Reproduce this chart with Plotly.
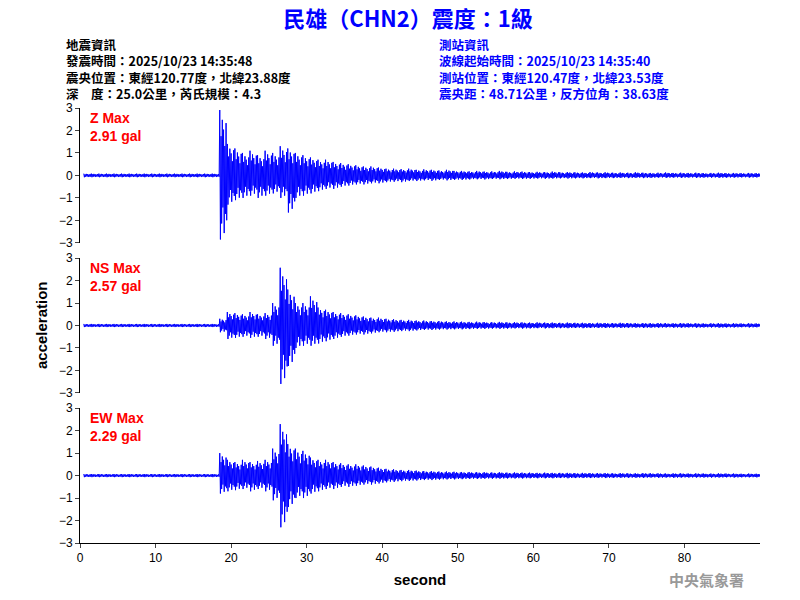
import plotly.graph_objects as go
from plotly.subplots import make_subplots

# per-second envelope (max / min) of each trace, t = 0..89 s
z_up = [0.08]*18 + [2.91, 1.4, 1.2, 1.0, 1.1, 0.9, 1.1, 1.0, 1.3, 1.2, 1.0, 0.9, 0.8, 0.7, 0.7, 0.6, 0.55, 0.5,
        0.45, 0.4, 0.4, 0.35, 0.3, 0.3, 0.28, 0.3, 0.25, 0.27, 0.25, 0.22, 0.25, 0.2,
        0.2, 0.18, 0.2, 0.17, 0.18, 0.2, 0.16, 0.18, 0.17, 0.15, 0.16, 0.15, 0.17, 0.14, 0.15, 0.14, 0.13, 0.15, 0.13, 0.14,
        0.12, 0.13, 0.12, 0.14, 0.12, 0.11, 0.12, 0.13, 0.11, 0.12, 0.11, 0.12, 0.1, 0.11, 0.12, 0.1, 0.11, 0.1, 0.11, 0.1]
z_dn = [-0.08]*18 + [-2.85, -1.3, -1.1, -1.0, -0.9, -1.0, -0.9, -0.8, -1.0, -1.65, -1.0, -0.9, -0.8, -0.7, -0.6, -0.6, -0.5, -0.45,
        -0.4, -0.4, -0.35, -0.35, -0.3, -0.28, -0.3, -0.25, -0.25, -0.22, -0.24, -0.2, -0.22, -0.2,
        -0.2, -0.18, -0.17, -0.18, -0.16, -0.17, -0.16, -0.15, -0.16, -0.15, -0.14, -0.15, -0.14, -0.13, -0.14, -0.13, -0.13, -0.12, -0.13, -0.12,
        -0.12, -0.11, -0.12, -0.11, -0.12, -0.11, -0.1, -0.11, -0.1, -0.11, -0.1, -0.11, -0.1, -0.1, -0.11, -0.1, -0.1, -0.09, -0.1, -0.09]
ns_up = [0.07]*18 + [0.3, 0.6, 0.55, 0.5, 0.6, 0.5, 0.55, 1.0, 2.57, 1.6, 1.0, 1.0, 1.3, 0.8, 0.7, 0.6, 0.55, 0.5,
         0.45, 0.4, 0.35, 0.35, 0.3, 0.28, 0.25, 0.25, 0.22, 0.22, 0.2, 0.2, 0.18, 0.18,
         0.17, 0.16, 0.17, 0.15, 0.15, 0.16, 0.14, 0.15, 0.14, 0.13, 0.14, 0.13, 0.13, 0.12, 0.13, 0.12, 0.12, 0.11, 0.12, 0.11,
         0.11, 0.12, 0.11, 0.1, 0.11, 0.1, 0.11, 0.1, 0.1, 0.11, 0.1, 0.1, 0.09, 0.1, 0.1, 0.09, 0.1, 0.09, 0.1, 0.09]
ns_dn = [-0.07]*18 + [-0.3, -0.6, -0.55, -0.5, -0.55, -0.5, -0.6, -0.9, -2.6, -1.8, -1.0, -0.9, -0.9, -0.8, -0.7, -0.6, -0.5, -0.45,
         -0.4, -0.4, -0.35, -0.3, -0.3, -0.28, -0.25, -0.25, -0.22, -0.2, -0.2, -0.18, -0.18, -0.17,
         -0.17, -0.16, -0.15, -0.15, -0.14, -0.15, -0.14, -0.13, -0.14, -0.13, -0.12, -0.13, -0.12, -0.12, -0.12, -0.11, -0.12, -0.11, -0.11, -0.11,
         -0.1, -0.11, -0.1, -0.1, -0.11, -0.1, -0.1, -0.09, -0.1, -0.1, -0.09, -0.1, -0.09, -0.09, -0.1, -0.09, -0.09, -0.08, -0.09, -0.08]
ew_up = [0.07]*18 + [1.0, 0.7, 0.6, 0.7, 0.6, 0.65, 0.7, 1.2, 2.29, 1.4, 1.2, 1.1, 0.8, 0.7, 0.7, 0.6, 0.55, 0.5,
         0.5, 0.45, 0.4, 0.35, 0.3, 0.28, 0.25, 0.25, 0.22, 0.2, 0.2, 0.18, 0.18, 0.17,
         0.16, 0.16, 0.15, 0.15, 0.14, 0.15, 0.13, 0.14, 0.13, 0.13, 0.12, 0.13, 0.12, 0.12, 0.12, 0.11, 0.12, 0.11, 0.11, 0.11,
         0.1, 0.11, 0.1, 0.1, 0.11, 0.1, 0.1, 0.09, 0.1, 0.1, 0.09, 0.1, 0.09, 0.09, 0.1, 0.09, 0.09, 0.08, 0.09, 0.08]
ew_dn = [-0.07]*18 + [-0.8, -0.7, -0.65, -0.6, -0.7, -0.6, -0.7, -1.1, -2.3, -1.4, -1.0, -1.0, -0.8, -0.7, -0.6, -0.6, -0.5, -0.5,
         -0.45, -0.4, -0.4, -0.35, -0.3, -0.28, -0.25, -0.24, -0.22, -0.2, -0.2, -0.18, -0.17, -0.17,
         -0.16, -0.15, -0.15, -0.14, -0.14, -0.14, -0.13, -0.13, -0.13, -0.12, -0.12, -0.12, -0.12, -0.11, -0.12, -0.11, -0.11, -0.11, -0.1, -0.11,
         -0.1, -0.1, -0.1, -0.1, -0.1, -0.09, -0.1, -0.09, -0.1, -0.09, -0.09, -0.09, -0.09, -0.09, -0.09, -0.08, -0.09, -0.08, -0.08, -0.08]

names = ["Z Max", "NS Max", "EW Max"]
peaks = ["2.91 gal", "2.57 gal", "2.29 gal"]
series = [(z_up, z_dn), (ns_up, ns_dn), (ew_up, ew_dn)]
# relative swing of the sub-second wiggles inside each one-second envelope
wiggle = [1.0, -1.0, 0.6, -0.75, 0.85, -0.5, 0.7, -0.9, 0.45, -0.6, 0.8, -0.7]

fig = make_subplots(rows=3, cols=1, shared_xaxes=True)
domains = [[0.69, 1.0], [0.345, 0.655], [0.0, 0.31]]
for i, (up, dn) in enumerate(series):
    xs, ys = [], []
    for t in range(len(up)):
        for k, w in enumerate(wiggle):
            xs.append(t + 0.5 + k / len(wiggle))
            ys.append(up[t] * w if w > 0 else dn[t] * -w)
    fig.add_trace(go.Scatter(x=xs, y=ys, mode="lines", line=dict(color="#0000ff", width=1)), row=i + 1, col=1)
    fig.update_yaxes(domain=domains[i], range=[-3, 3], tickvals=[-3, -2, -1, 0, 1, 2, 3], row=i + 1, col=1)
    ref = "y domain" if i == 0 else f"y{i+1} domain"
    fig.add_annotation(xref="x domain", yref=ref, x=0.012, y=1.0, text="<b>" + names[i] + "<br>" + peaks[i] + "</b>",
                       showarrow=False, xanchor="left", yanchor="top", align="left",
                       font=dict(color="#ff0000", size=14, family="Liberation Sans"))

fig.update_yaxes(showline=True, linecolor="black", ticks="outside", ticklen=4, showgrid=False, automargin=False,
                 zeroline=False, tickfont=dict(size=12, color="black", family="Liberation Sans"))
fig.update_xaxes(range=[0, 90], showgrid=False, zeroline=False, showline=False, showticklabels=False, automargin=False)
fig.update_xaxes(showline=True, linecolor="black", ticks="outside", ticklen=4, showticklabels=True,
                 tickvals=[0, 10, 20, 30, 40, 50, 60, 70, 80],
                 tickfont=dict(size=12, color="black", family="Liberation Sans"),
                 title=dict(text="<b>second</b>", font=dict(size=15, color="black", family="Liberation Sans"), standoff=10),
                 row=3, col=1)

cjk = "Noto Sans CJK TC"
left = "地震資訊<br>發震時間：2025/10/23 14:35:48<br>震央位置：東經120.77度，北緯23.88度<br>深　度：25.0公里，芮氏規模：4.3"
right = "測站資訊<br>波線起始時間：2025/10/23 14:35:40<br>測站位置：東經120.47度，北緯23.53度<br>震央距：48.71公里，反方位角：38.63度"
fig.add_annotation(xref="paper", yref="paper", x=-0.024, y=1.172, text="<b>" + left + "</b>", showarrow=False,
                   xanchor="left", yanchor="top", align="left", font=dict(size=12.5, color="black", family=cjk))
fig.add_annotation(xref="paper", yref="paper", x=0.525, y=1.172, text="<b>" + right + "</b>", showarrow=False,
                   xanchor="left", yanchor="top", align="left", font=dict(size=12.5, color="#0000ff", family=cjk))
fig.add_annotation(xref="paper", yref="paper", x=-0.072, y=0.5, text="<b>acceleration</b>", textangle=-90,
                   showarrow=False, font=dict(size=15, color="black", family="Liberation Sans"))
fig.add_annotation(xref="paper", yref="paper", x=0.98, y=-0.085, text="<b>中央氣象署</b>", showarrow=False,
                   xanchor="right", yanchor="middle", font=dict(size=15, color="#999999", family=cjk))

fig.update_layout(
    width=800, height=600, showlegend=False,
    margin=dict(l=72, r=48, t=100, b=65),
    paper_bgcolor="white", plot_bgcolor="white",
    title=dict(text="<b>民雄（CHN2）震度：1級</b>", x=0.5, y=0.982, yanchor="middle", xanchor="center",
               font=dict(size=22, color="#0000ff", family=cjk)),
)

fig.write_html("out.html")
